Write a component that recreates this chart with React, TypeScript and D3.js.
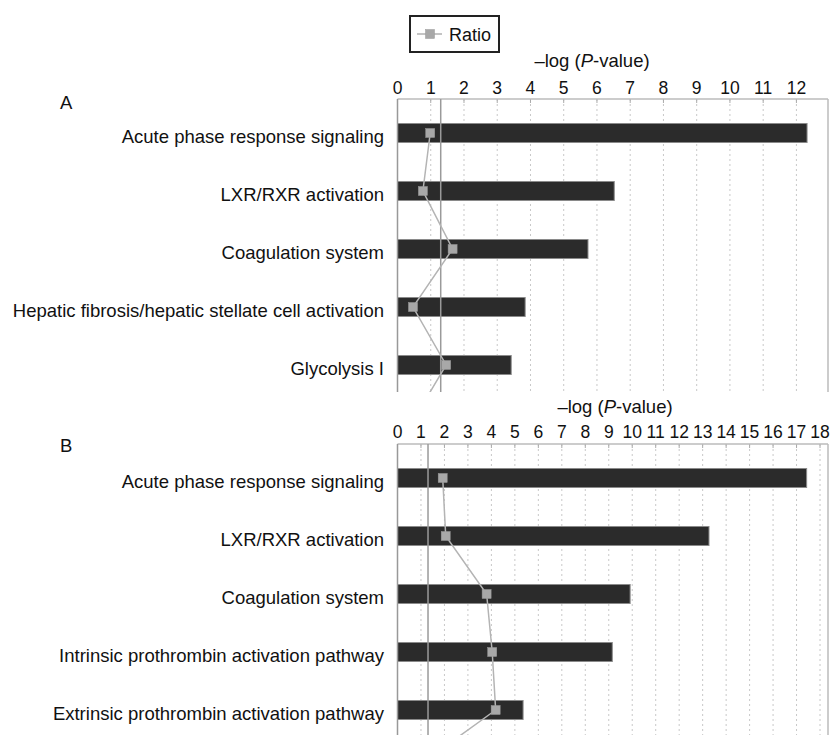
import React from "react";
import * as d3 from "d3";

// Panel A data
const categoriesA = [
  "Acute phase response signaling",
  "LXR/RXR activation",
  "Coagulation system",
  "Hepatic fibrosis/hepatic stellate cell activation",
  "Glycolysis I",
];
const pValuesA = [12.32, 6.52, 5.73, 3.84, 3.42];
// ratio values; the 6th belongs to the next (cropped) pathway
const ratioA = [0.076, 0.059, 0.128, 0.036, 0.113, 0.033];
const ticksA = [0, 1, 2, 3, 4, 5, 6, 7, 8, 9, 10, 11, 12];

// Panel B data
const categoriesB = [
  "Acute phase response signaling",
  "LXR/RXR activation",
  "Coagulation system",
  "Intrinsic prothrombin activation pathway",
  "Extrinsic prothrombin activation pathway",
];
const pValuesB = [17.43, 13.27, 9.91, 9.15, 5.35];
const ratioB = [0.105, 0.112, 0.207, 0.22, 0.228, 0.041];
const ticksB = [0, 1, 2, 3, 4, 5, 6, 7, 8, 9, 10, 11, 12, 13, 14, 15, 16, 17, 18];

const THRESHOLD = 1.3;
const FONT = "'Liberation Sans', Arial, sans-serif";

type PanelProps = {
  id: string;
  letter: string;
  categories: string[];
  values: number[];
  ratios: number[];
  ticks: number[];
  xMax: number;
  top: number;
  bottom: number;
  titleX: number;
  titleY: number;
  tickY: number;
  letterY: number;
};

function Panel(p: PanelProps) {
  const left = 397.5;
  const right = 828;
  const x = d3.scaleLinear().domain([0, p.xMax]).range([left, right]);
  const xr = d3.scaleLinear().domain([0, 1]).range([left, right]);
  const idx = d3.range(p.ratios.length).map(String);
  const y = d3
    .scaleBand<string>()
    .domain(idx)
    .range([p.top + 5, p.top + 5 + 58 * idx.length])
    .paddingInner(0.67)
    .paddingOuter(0.335);
  const bh = 19;
  const cy = (i: number) => (y(String(i)) as number) + y.bandwidth() / 2;
  const line = d3
    .line<number>()
    .x((d) => xr(d))
    .y((_, i) => cy(i));
  const grid = d3.range(1, Math.floor(p.xMax) + 1);
  const clipId = "clip" + p.id;
  return (
    <g>
      <defs>
        <clipPath id={clipId}>
          <rect x={left - 2} y={p.top - 2} width={right - left + 4} height={p.bottom - p.top + 2} />
        </clipPath>
      </defs>
      <text x={60} y={p.letterY} fontSize={18.5} fontFamily={FONT} fill="#111">
        {p.letter}
      </text>
      <text x={p.titleX} y={p.titleY} fontSize={18.5} fontFamily={FONT} textAnchor="middle" fill="#111">
        –log (<tspan fontStyle="italic">P</tspan>-value)
      </text>
      {p.ticks.map((t) => (
        <text key={t} x={x(t)} y={p.tickY} fontSize={17.5} fontFamily={FONT} textAnchor="middle" fill="#111">
          {t}
        </text>
      ))}
      <g clipPath={`url(#${clipId})`}>
        {grid.map((g) => (
          <line key={g} x1={x(g)} x2={x(g)} y1={p.top} y2={p.bottom} stroke="#c8c8c8" strokeWidth={1} strokeDasharray="2,3" />
        ))}
        {p.ticks.map((t) => (
          <line key={"t" + t} x1={x(t)} x2={x(t)} y1={p.top} y2={p.top + 4} stroke="#aaa" strokeWidth={1} />
        ))}
        <line x1={left} x2={right} y1={p.top} y2={p.top} stroke="#bbb" strokeWidth={1.5} />
        <line x1={right} x2={right} y1={p.top} y2={p.bottom} stroke="#bbb" strokeWidth={1.5} />
        {p.values.map((v, i) => (
          <rect key={i} x={x(0)} y={cy(i) - bh / 2} width={x(v) - x(0)} height={bh} fill="#2b2b2b" stroke="#8a8a8a" strokeWidth={1} />
        ))}
        <line x1={x(THRESHOLD)} x2={x(THRESHOLD)} y1={p.top} y2={p.bottom} stroke="#9a9a9a" strokeWidth={1.5} />
        <line x1={left} x2={left} y1={p.top} y2={p.bottom} stroke="#999" strokeWidth={1.5} />
        <path d={line(p.ratios) || ""} fill="none" stroke="#b4b4b4" strokeWidth={1.5} />
        {p.ratios.map((r, i) => (
          <rect key={i} x={xr(r) - 4.5} y={cy(i) - 4.5} width={9} height={9} fill="#a8a8a8" stroke="#999" strokeWidth={0.5} />
        ))}
      </g>
      {p.categories.map((c, i) => (
        <text key={c + i} x={384} y={cy(i) + 10} fontSize={18.5} fontFamily={FONT} textAnchor="end" fill="#111">
          {c}
        </text>
      ))}
    </g>
  );
}

export default function App() {
  return (
    <svg width={832} height={735} style={{ position: "absolute", left: 0, top: 0, background: "#fff" }}>
      <rect x={0} y={0} width={832} height={735} fill="#fff" />
      {/* legend */}
      <rect x={410} y={16} width={89} height={36} fill="#fff" stroke="#222" strokeWidth={2} />
      <line x1={417} x2={442} y1={34} y2={34} stroke="#b0b0b0" strokeWidth={1.5} />
      <rect x={425.5} y={29.5} width={9} height={9} fill="#a8a8a8" stroke="#999" strokeWidth={0.5} />
      <text x={449} y={40.5} fontSize={18} fontFamily={FONT} fill="#111">
        Ratio
      </text>
      <Panel
        id="A"
        letter="A"
        categories={categoriesA}
        values={pValuesA}
        ratios={ratioA}
        ticks={ticksA}
        xMax={12.95}
        top={99}
        bottom={392}
        titleX={592}
        titleY={67}
        tickY={94}
        letterY={109}
      />
      <Panel
        id="B"
        letter="B"
        categories={categoriesB}
        values={pValuesB}
        ratios={ratioB}
        ticks={ticksB}
        xMax={18.34}
        top={444}
        bottom={735}
        titleX={615}
        titleY={413}
        tickY={438}
        letterY={452}
      />
    </svg>
  );
}
